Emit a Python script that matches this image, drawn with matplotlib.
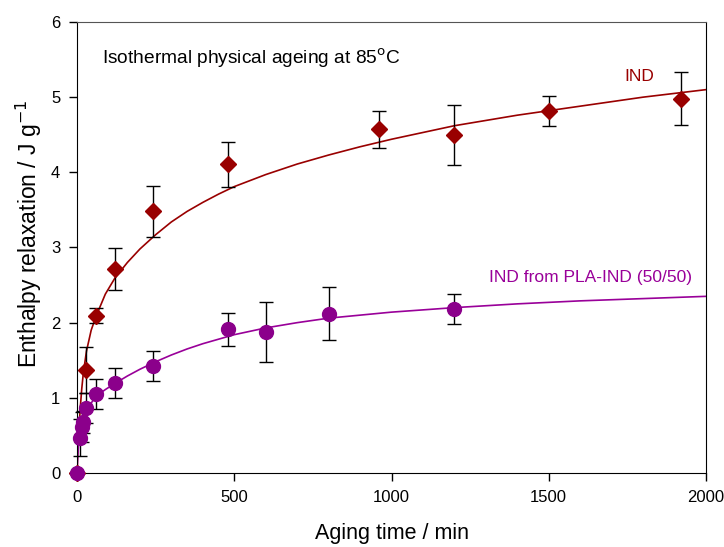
import numpy as np
import matplotlib
matplotlib.use("Agg")
import matplotlib.pyplot as plt

plt.rcParams['font.family'] = ['Liberation Sans', 'DejaVu Sans']

# === Datos ===
# IND (rombos)
t_ind = [0, 30, 60, 120, 240, 480, 960, 1200, 1500, 1920]
h_ind = [0, 1.37, 2.09, 2.71, 3.48, 4.11, 4.57, 4.50, 4.81, 4.98]
e_ind = [0, 0.30, 0.10, 0.28, 0.34, 0.30, 0.25, 0.40, 0.20, 0.35]

# IND from PLA-IND (50/50) (circulos)
t_mix = [0, 10, 15, 20, 30, 60, 120, 240, 480, 600, 800, 1200]
h_mix = [0, 0.47, 0.61, 0.68, 0.86, 1.05, 1.20, 1.42, 1.91, 1.88, 2.12, 2.18]
e_mix = [0, 0.25, 0.20, 0.15, 0.20, 0.20, 0.20, 0.20, 0.22, 0.40, 0.35, 0.20]

# Curvas de ajuste (puntos leidos sobre la linea)
tc_ind = [0, 2, 5, 10, 15, 20, 30, 45, 60, 90, 120, 160, 200, 250, 300, 350,
          400, 450, 500, 600, 700, 800, 900, 1000, 1200, 1400, 1600, 1800, 2000]
hc_ind = [0, 0.25, 0.50, 0.85, 1.12, 1.33, 1.62, 1.90, 2.08, 2.38, 2.59, 2.80,
          2.98, 3.17, 3.34, 3.48, 3.60, 3.71, 3.81, 3.97, 4.11, 4.23, 4.34,
          4.44, 4.62, 4.76, 4.88, 5.00, 5.10]
tc_mix = [0, 2, 5, 10, 15, 20, 30, 45, 60, 90, 120, 160, 200, 250, 300, 350,
          400, 450, 500, 600, 700, 800, 900, 1000, 1200, 1400, 1600, 1800, 2000]
hc_mix = [0, 0.20, 0.40, 0.55, 0.64, 0.71, 0.82, 0.93, 1.02, 1.11, 1.19, 1.29,
          1.38, 1.48, 1.57, 1.65, 1.72, 1.78, 1.84, 1.93, 2.00, 2.06, 2.10,
          2.14, 2.20, 2.25, 2.29, 2.32, 2.35]

red = "#990000"
purple = "#8B008B"

fig = plt.figure(figsize=(7.24, 5.47), dpi=100)
ax = fig.add_axes([0.1064, 0.1353, 0.8687, 0.8245])

ax.plot(tc_ind, hc_ind, color=red, lw=1.2, zorder=2)
ax.plot(tc_mix, hc_mix, color="#990099", lw=1.2, zorder=2)

for t, h, e, fmt, c, ms in [(t_ind, h_ind, e_ind, "D", red, 8),
                            (t_mix, h_mix, e_mix, "o", purple, 10)]:
    eb = ax.errorbar(t, h, yerr=e, fmt=fmt, color=c, ms=ms, mec=c,
                     ecolor="black", elinewidth=1, capsize=5, capthick=1,
                     zorder=3)
    parts = [eb.lines[0]] + list(eb.lines[1]) + list(eb.lines[2])
    for art in parts:
        art.set_clip_on(False)

ax.set_xlim(0, 2000)
ax.set_ylim(0, 6)
ax.set_xticks([0, 500, 1000, 1500, 2000])
ax.set_yticks([0, 1, 2, 3, 4, 5, 6])
ax.tick_params(direction="out", length=6, width=1, labelsize=12, pad=6)
for s in ["left", "right", "bottom"]:
    ax.spines[s].set_color("black")
ax.spines["top"].set_color("#555555")

ax.set_xlabel("Aging time / min", fontsize=15.5, labelpad=13)
ax.set_ylabel(r"Enthalpy relaxation / J g$^{-1}$", fontsize=16.5)
ax.yaxis.set_label_coords(-0.053, 0.53)

ax.text(0.04, 0.92, r"Isothermal physical ageing at 85$^{\mathrm{o}}$C",
        transform=ax.transAxes, fontsize=13.8, va="center", ha="left")
ax.text(1740, 5.27, "IND", color=red, fontsize=12.5, ha="left", va="center")
ax.text(1310, 2.6, "IND from PLA-IND (50/50)", color="#990099", fontsize=12.5,
        ha="left", va="center")

plt.savefig("out.png", dpi=100)
